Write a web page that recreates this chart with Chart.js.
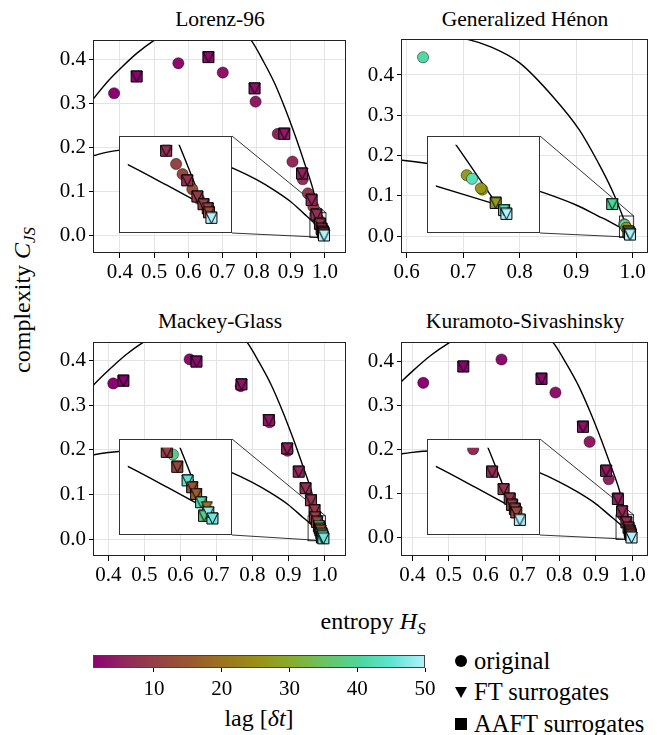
<!DOCTYPE html>
<html><head><meta charset="utf-8">
<script src="https://cdn.jsdelivr.net/npm/chart.js"></script>
<style>
html,body{margin:0;padding:0;background:#fff}
body{width:657px;height:735px;position:relative;overflow:hidden;font-family:'Liberation Serif';color:#000}
canvas{position:absolute;display:block}
.t{position:absolute;white-space:nowrap;line-height:1;font-family:'Liberation Serif'}
.title{font-size:21.5px;transform:translateX(-50%)}
.lab{font-size:24px}
sub{font-size:70%;vertical-align:-0.3em;line-height:0}
.leg{font-size:24.5px}
.sym{position:absolute}
</style></head><body>
<div class="t title" style="left:220px;top:9px">Lorenz-96</div>
<div class="t title" style="left:525px;top:9px">Generalized Hénon</div>
<div class="t title" style="left:220px;top:311px">Mackey-Glass</div>
<div class="t title" style="left:525px;top:311px">Kuramoto-Sivashinsky</div>
<div class="t lab" style="left:22px;top:300px;transform:translate(-50%,-50%) rotate(-90deg)">complexity <i>C</i><sub><i>JS</i></sub></div>
<div class="t lab" style="left:373px;top:621px;transform:translate(-50%,-50%)">entropy <i>H</i><sub><i>S</i></sub></div>
<div class="t lab" style="left:259px;top:718px;transform:translate(-50%,-50%)">lag [<i>δt</i>]</div>
<div class="sym" style="left:455px;top:655px;width:12px;height:12px;border-radius:50%;background:#000"></div>
<div class="sym" style="left:455px;top:687px;width:0;height:0;border-left:6px solid transparent;border-right:6px solid transparent;border-top:11px solid #000"></div>
<div class="sym" style="left:455px;top:718px;width:12px;height:12px;background:#000"></div>
<div class="t leg" style="left:474px;top:649px">original</div>
<div class="t leg" style="left:474px;top:680px">FT surrogates</div>
<div class="t leg" style="left:474px;top:712px">AAFT surrogates</div>
<script>
// ---------- tick labels ----------
const lagTicks = [10, 20, 30, 40, 50];
const hTicksWide = [0.4, 0.5, 0.6, 0.7, 0.8, 0.9, 1.0];
const hTicksHenon = [0.6, 0.7, 0.8, 0.9, 1.0];
const cTicks = [0.0, 0.1, 0.2, 0.3, 0.4];

// ---------- complexity-entropy bounds ----------
const maxCurveH = [0.30, 0.325, 0.361, 0.40, 0.45, 0.50, 0.55, 0.60, 0.65, 0.70, 0.75, 0.783, 0.82, 0.853, 0.885, 0.915, 0.94, 0.964, 0.981, 0.993];
const maxCurveC = [0.29, 0.313, 0.347, 0.378, 0.414, 0.443, 0.466, 0.482, 0.49, 0.485, 0.465, 0.444, 0.395, 0.345, 0.285, 0.222, 0.165, 0.108, 0.053, 0.0099];
const henMaxH = [0.58, 0.62, 0.66, 0.706, 0.75, 0.80, 0.859, 0.906, 0.94, 0.953, 0.968, 0.9823, 0.993];
const henMaxC = [0.497, 0.499, 0.497, 0.489, 0.469, 0.43, 0.346, 0.263, 0.180, 0.145, 0.100, 0.0497, 0.0099];
const minCurveH = [0.30, 0.325, 0.36, 0.40, 0.45, 0.50, 0.55, 0.60, 0.65, 0.70, 0.74, 0.80, 0.85, 0.90, 0.94, 0.956, 0.975, 0.993];
const minCurveC = [0.177, 0.182, 0.189, 0.194, 0.197, 0.197, 0.194, 0.187, 0.177, 0.162, 0.15, 0.127, 0.104, 0.077, 0.049, 0.038, 0.0237, 0.0098];

// ---------- Lorenz-96 ----------
const l96OrigLag = [1, 2, 3, 4, 5, 6, 7, 8, 9, 10, 11, 12, 13, 14];
const l96OrigH = [0.383, 0.571, 0.701, 0.797, 0.862, 0.905, 0.935, 0.950, 0.966, 0.975, 0.9798, 0.983, 0.9878, 0.991];
const l96OrigC = [0.323, 0.391, 0.370, 0.304, 0.231, 0.168, 0.128, 0.096, 0.066, 0.049, 0.0385, 0.0313, 0.0207, 0.014];
const l96FtLag = [1, 2, 3, 4, 5, 6, 7, 8, 9, 10, 11, 12, 50];
const l96FtH = [0.449, 0.659, 0.794, 0.881, 0.933, 0.961, 0.9749, 0.9853, 0.9903, 0.9933, 0.9954, 0.9960, 0.9972];
const l96FtC = [0.361, 0.405, 0.334, 0.231, 0.141, 0.081, 0.0478, 0.0269, 0.0155, 0.0101, 0.0072, 0.0044, 0.0005];
const l96AaftLag = [1, 2, 3, 4, 5, 6, 7, 8, 9, 10, 11, 12, 50];
const l96AaftH = [0.449, 0.659, 0.794, 0.881, 0.933, 0.961, 0.9749, 0.9853, 0.9903, 0.9933, 0.9954, 0.9960, 0.9972];
const l96AaftC = [0.361, 0.405, 0.334, 0.231, 0.141, 0.081, 0.0478, 0.0269, 0.0155, 0.0101, 0.0072, 0.0044, 0.0005];

// ---------- Generalized Henon ----------
const henOrigLag = [41, 27, 43, 28, 26];
const henOrigH = [0.629, 0.9851, 0.9865, 0.9892, 0.9888];
const henOrigC = [0.444, 0.0294, 0.0270, 0.0198, 0.0207];
const henFtLag = [40, 27, 43, 50];
const henFtH = [0.964, 0.9927, 0.9949, 0.9955];
const henFtC = [0.0795, 0.0109, 0.0061, 0.0036];
const henAaftLag = [40, 27, 43, 50];
const henAaftH = [0.964, 0.9927, 0.9949, 0.9955];
const henAaftC = [0.0795, 0.0109, 0.0061, 0.0036];

// ---------- Mackey-Glass ----------
const mgOrigLag = [1, 2, 3, 4, 5, 38];
const mgOrigH = [0.414, 0.626, 0.768, 0.848, 0.898, 0.9777];
const mgOrigC = [0.349, 0.403, 0.343, 0.262, 0.198, 0.0472];
const mgFtLag = [1, 2, 3, 4, 5, 6, 7, 8, 9, 10, 12, 45, 14, 16, 42, 20, 38, 48, 46];
const mgFtH = [0.442, 0.645, 0.770, 0.846, 0.897, 0.929, 0.948, 0.963, 0.973, 0.9746, 0.9799, 0.9851, 0.9874, 0.9894, 0.9919, 0.9948, 0.9934, 0.9955, 0.9976];
const mgFtC = [0.355, 0.398, 0.347, 0.267, 0.203, 0.151, 0.114, 0.087, 0.065, 0.0491, 0.0384, 0.0287, 0.0238, 0.0190, 0.0131, 0.0097, 0.0034, 0.0058, 0.0015];
const mgAaftLag = [1, 2, 3, 4, 5, 6, 7, 8, 9, 10, 12, 45, 14, 16, 42, 38, 48, 46];
const mgAaftH = [0.442, 0.645, 0.770, 0.846, 0.897, 0.929, 0.948, 0.963, 0.973, 0.9746, 0.9799, 0.9851, 0.9874, 0.9894, 0.9919, 0.9934, 0.9955, 0.9976];
const mgAaftC = [0.355, 0.398, 0.347, 0.267, 0.203, 0.151, 0.114, 0.087, 0.065, 0.0491, 0.0384, 0.0287, 0.0238, 0.0190, 0.0131, 0.0034, 0.0058, 0.0015];

// ---------- Kuramoto-Sivashinsky ----------
const ksOrigLag = [1, 2, 3, 4, 5, 6];
const ksOrigH = [0.430, 0.643, 0.790, 0.883, 0.935, 0.9738];
const ksOrigC = [0.352, 0.405, 0.330, 0.218, 0.133, 0.051];
const ksFtLag = [1, 2, 3, 4, 5, 6, 7, 8, 9, 10, 11, 12, 50];
const ksFtH = [0.539, 0.752, 0.865, 0.928, 0.960, 0.9715, 0.9833, 0.9891, 0.9922, 0.9934, 0.9948, 0.9955, 0.9973];
const ksFtC = [0.389, 0.361, 0.252, 0.152, 0.088, 0.060, 0.0349, 0.0225, 0.0157, 0.0112, 0.0083, 0.0058, 0.0005];
const ksAaftLag = [1, 2, 3, 4, 5, 6, 7, 8, 9, 10, 11, 12, 50];
const ksAaftH = [0.539, 0.752, 0.865, 0.928, 0.960, 0.9715, 0.9833, 0.9891, 0.9922, 0.9934, 0.9948, 0.9955, 0.9973];
const ksAaftC = [0.389, 0.361, 0.252, 0.152, 0.088, 0.060, 0.0349, 0.0225, 0.0157, 0.0112, 0.0083, 0.0058, 0.0005];

// ---------- colour map ----------
const cmapPos = [0, 0.1, 0.2, 0.3, 0.4, 0.5, 0.6, 0.7, 0.8, 0.9, 1];
const cmapCol = ['#8c0273', '#922a5a', '#964343', '#9a5b2f', '#9c761e', '#999216', '#86ae2d', '#68c563', '#4fd59b', '#5ee5d0', '#b3f2fd'];
const LAGMIN = 1, LAGMAX = 50;
function hex2rgb(h) { return [parseInt(h.slice(1, 3), 16), parseInt(h.slice(3, 5), 16), parseInt(h.slice(5, 7), 16)]; }
function cmap(lag) {
  let t = (lag - LAGMIN) / (LAGMAX - LAGMIN); t = Math.max(0, Math.min(1, t));
  let i = 0; while (i < cmapPos.length - 2 && t > cmapPos[i + 1]) i++;
  const f = (t - cmapPos[i]) / (cmapPos[i + 1] - cmapPos[i]);
  const a = hex2rgb(cmapCol[i]), b = hex2rgb(cmapCol[i + 1]);
  return 'rgb(' + a.map((v, k) => Math.round(v + (b[k] - v) * f)).join(',') + ')';
}

const FONT = "'Liberation Serif'";
const pts = (H, C) => H.map((h, i) => ({ x: h, y: C[i] }));
const triCache = {};
function triImg(color) {
  if (triCache[color]) return triCache[color];
  const s = 11, pad = 1, c = document.createElement('canvas');
  c.width = c.height = s + 2 * pad;
  const g = c.getContext('2d');
  g.fillStyle = color; g.strokeStyle = '#000'; g.lineWidth = 1; g.lineJoin = 'miter';
  g.beginPath(); g.moveTo(pad, pad); g.lineTo(pad + s, pad); g.lineTo(pad + s / 2, pad + s); g.closePath();
  g.fill(); g.stroke();
  triCache[color] = c; return c;
}

function buildSets(p) {
  const col = lags => (ctx => (ctx.dataIndex === undefined ? '#000' : cmap(lags[ctx.dataIndex])));
  return [
    { data: pts(p.maxC[0], p.maxC[1]), showLine: true, borderColor: '#000', borderWidth: 1.4, pointRadius: 0, cubicInterpolationMode: 'monotone', fill: false, order: 5, clip: 0 },
    { data: pts(minCurveH, minCurveC), showLine: true, borderColor: '#000', borderWidth: 1.4, pointRadius: 0, cubicInterpolationMode: 'monotone', fill: false, order: 5, clip: 0 },
    { data: pts(p.orig[0], p.orig[1]), pointStyle: 'circle', pointRadius: 5.6, pointBackgroundColor: col(p.orig[2]), pointBorderColor: 'rgba(0,0,0,0.75)', pointBorderWidth: 0.6, showLine: false, order: 3, clip: 0 },
    { data: pts(p.aaft[0], p.aaft[1]), pointStyle: 'rect', pointRadius: 7.8, pointBackgroundColor: col(p.aaft[2]), pointBorderColor: '#000', pointBorderWidth: 1, showLine: false, order: 2, clip: 0 },
    { data: pts(p.ft[0], p.ft[1]), pointStyle: ctx => (ctx.dataIndex === undefined ? 'triangle' : triImg(cmap(p.ft[2][ctx.dataIndex]))), pointRadius: 6, showLine: false, order: 1, clip: 0 }
  ];
}

const panels = [
  { L: 94, R: 346, T: 40, B: 253, xMin: 0.3242, xMax: 1.0592, yMin: -0.0392, yMax: 0.4438, xTicks: hTicksWide,
    inset: { L: 119, T: 136, W: 113, H: 97, xMin: 0.956, xMax: 1.003, yMin: -0.004, yMax: 0.052 },
    maxC: [maxCurveH, maxCurveC],
    orig: [l96OrigH, l96OrigC, l96OrigLag], ft: [l96FtH, l96FtC, l96FtLag], aaft: [l96AaftH, l96AaftC, l96AaftLag] },
  { L: 402, R: 648, T: 39, B: 253, xMin: 0.5917, xMax: 1.0259, yMin: -0.0422, yMax: 0.4894, xTicks: hTicksHenon,
    inset: { L: 427, T: 136, W: 113, H: 97, xMin: 0.977, xMax: 1.002, yMin: -0.0033, yMax: 0.0497 },
    maxC: [henMaxH, henMaxC],
    orig: [henOrigH, henOrigC, henOrigLag], ft: [henFtH, henFtC, henFtLag], aaft: [henAaftH, henAaftC, henAaftLag] },
  { L: 94, R: 346, T: 342, B: 556, xMin: 0.3604, xMax: 1.0581, yMin: -0.0381, yMax: 0.442, xTicks: hTicksWide,
    inset: { L: 119, T: 439, W: 113, H: 96, xMin: 0.955, xMax: 1.003, yMin: -0.004, yMax: 0.052 },
    maxC: [maxCurveH, maxCurveC],
    orig: [mgOrigH, mgOrigC, mgOrigLag], ft: [mgFtH, mgFtC, mgFtLag], aaft: [mgAaftH, mgAaftC, mgAaftLag] },
  { L: 402, R: 648, T: 342, B: 556, xMin: 0.372, xMax: 1.0399, yMin: -0.0416, yMax: 0.4448, xTicks: hTicksWide,
    inset: { L: 427, T: 439, W: 113, H: 96, xMin: 0.955, xMax: 1.003, yMin: -0.004, yMax: 0.052 },
    maxC: [maxCurveH, maxCurveC],
    orig: [ksOrigH, ksOrigC, ksOrigLag], ft: [ksFtH, ksFtC, ksFtLag], aaft: [ksAaftH, ksAaftC, ksAaftLag] }
];

function addCanvas(left, top, w, h) {
  const c = document.createElement('canvas');
  c.width = w; c.height = h;
  c.style.left = left + 'px'; c.style.top = top + 'px'; c.style.width = w + 'px'; c.style.height = h + 'px';
  document.body.appendChild(c); return c;
}
const common = { responsive: false, animation: false, events: [], devicePixelRatio: 1,
  plugins: { legend: { display: false }, tooltip: { enabled: false }, title: { display: false } } };
const zeroPad = s => { s.paddingLeft = 0; s.paddingRight = 0; s.paddingTop = 0; s.paddingBottom = 0; };

const AXW = 70, PADT = 12, PADR = 8, AXH = 40, PADB = 5;
panels.forEach(p => {
  const cl = p.L - AXW, ct = p.T - PADT, cw = p.R - p.L + AXW + PADR, ch = p.B - p.T + PADT + AXH + PADB;
  const ins = p.inset;
  const mainPlugin = {
    id: 'frameInset',
    beforeDatasetsDraw(c) {
      const { ctx, scales: { x, y } } = c;
      const rx0 = x.getPixelForValue(ins.xMin), rx1 = x.getPixelForValue(ins.xMax);
      const ry0 = y.getPixelForValue(ins.yMax), ry1 = y.getPixelForValue(ins.yMin);
      ctx.save();
      ctx.strokeStyle = '#000'; ctx.lineWidth = 0.8;
      ctx.strokeRect(rx0, ry0, rx1 - rx0, ry1 - ry0);
      const bx = ins.L + ins.W - cl, byT = ins.T - ct, byB = ins.T + ins.H - ct;
      ctx.beginPath(); ctx.moveTo(bx, byT); ctx.lineTo(rx1, ry0); ctx.moveTo(bx, byB); ctx.lineTo(rx1, ry1); ctx.stroke();
      ctx.restore();
    },
    afterDraw(c) {
      const { ctx, chartArea: a } = c;
      ctx.save(); ctx.strokeStyle = '#222'; ctx.lineWidth = 1;
      ctx.strokeRect(Math.round(a.left) - 0.5, Math.round(a.top) + 0.5, Math.round(a.right - a.left) + 1, Math.round(a.bottom - a.top) - 1);
      ctx.restore();
    }
  };
  new Chart(addCanvas(cl, ct, cw, ch), {
    type: 'scatter',
    data: { datasets: buildSets(p) },
    options: Object.assign({}, common, {
      layout: { padding: { left: 0, right: PADR, top: PADT, bottom: PADB } },
      scales: {
        x: { type: 'linear', min: p.xMin, max: p.xMax,
          afterBuildTicks: s => { s.ticks = p.xTicks.map(v => ({ value: v })); },
          afterFit: s => { s.height = AXH; zeroPad(s); },
          ticks: { callback: v => Number(v).toFixed(1), font: { family: FONT, size: 21 }, color: '#000', padding: 2, maxRotation: 0, autoSkip: false },
          grid: { color: '#e4e4e4', lineWidth: 1, tickColor: '#000', tickLength: 5, tickWidth: 1 },
          border: { display: false } },
        y: { type: 'linear', min: p.yMin, max: p.yMax,
          afterBuildTicks: s => { s.ticks = cTicks.map(v => ({ value: v })); },
          afterFit: s => { s.width = AXW; zeroPad(s); },
          ticks: { callback: v => Number(v).toFixed(1), font: { family: FONT, size: 21 }, color: '#000', padding: 3, autoSkip: false },
          grid: { color: '#e4e4e4', lineWidth: 1, tickColor: '#000', tickLength: 5, tickWidth: 1 },
          border: { display: false } }
      }
    }),
    plugins: [mainPlugin]
  });
  // inset
  const insetPlugin = {
    id: 'insetBox',
    beforeDraw(c) { const g = c.ctx; g.save(); g.fillStyle = '#fff'; g.fillRect(0, 0, c.width, c.height); g.restore(); },
    afterDraw(c) { const g = c.ctx; g.save(); g.strokeStyle = '#333'; g.lineWidth = 1; g.strokeRect(0.5, 0.5, c.width - 1, c.height - 1); g.restore(); }
  };
  new Chart(addCanvas(ins.L, ins.T, ins.W, ins.H), {
    type: 'scatter',
    data: { datasets: buildSets(p) },
    options: Object.assign({}, common, {
      layout: { padding: 0 },
      scales: {
        x: { type: 'linear', display: false, min: ins.xMin, max: ins.xMax },
        y: { type: 'linear', display: false, min: ins.yMin, max: ins.yMax }
      }
    }),
    plugins: [insetPlugin]
  });
});

// ---------- colour bar ----------
(function () {
  const cl = 73, ct = 650, cw = 372, ch = 60;
  const cbPlugin = {
    id: 'cbar',
    beforeDraw(c) {
      const { ctx, chartArea: a, scales: { x } } = c;
      const g = ctx.createLinearGradient(x.getPixelForValue(LAGMIN), 0, x.getPixelForValue(LAGMAX), 0);
      cmapPos.forEach((t, i) => g.addColorStop(t, cmapCol[i]));
      ctx.save(); ctx.fillStyle = g; ctx.fillRect(a.left, a.top, a.right - a.left, a.bottom - a.top);
      ctx.strokeStyle = '#444'; ctx.lineWidth = 1;
      ctx.strokeRect(a.left + 0.5, a.top + 0.5, a.right - a.left - 1, a.bottom - a.top - 1);
      ctx.restore();
    }
  };
  new Chart(addCanvas(cl, ct, cw, ch), {
    type: 'scatter',
    data: { datasets: [] },
    options: Object.assign({}, common, {
      layout: { padding: { left: 20, right: 20, top: 5, bottom: 0 } },
      scales: {
        x: { type: 'linear', min: LAGMIN, max: LAGMAX,
          afterBuildTicks: s => { s.ticks = lagTicks.map(v => ({ value: v })); },
          afterFit: s => { s.height = 42; zeroPad(s); },
          ticks: { font: { family: FONT, size: 21 }, color: '#000', padding: 5, maxRotation: 0, autoSkip: false },
          grid: { drawOnChartArea: false, tickColor: '#000', tickLength: 4, tickWidth: 1 },
          border: { display: false } },
        y: { display: false, min: 0, max: 1 }
      }
    }),
    plugins: [cbPlugin]
  });
})();
</script>
</body></html>
